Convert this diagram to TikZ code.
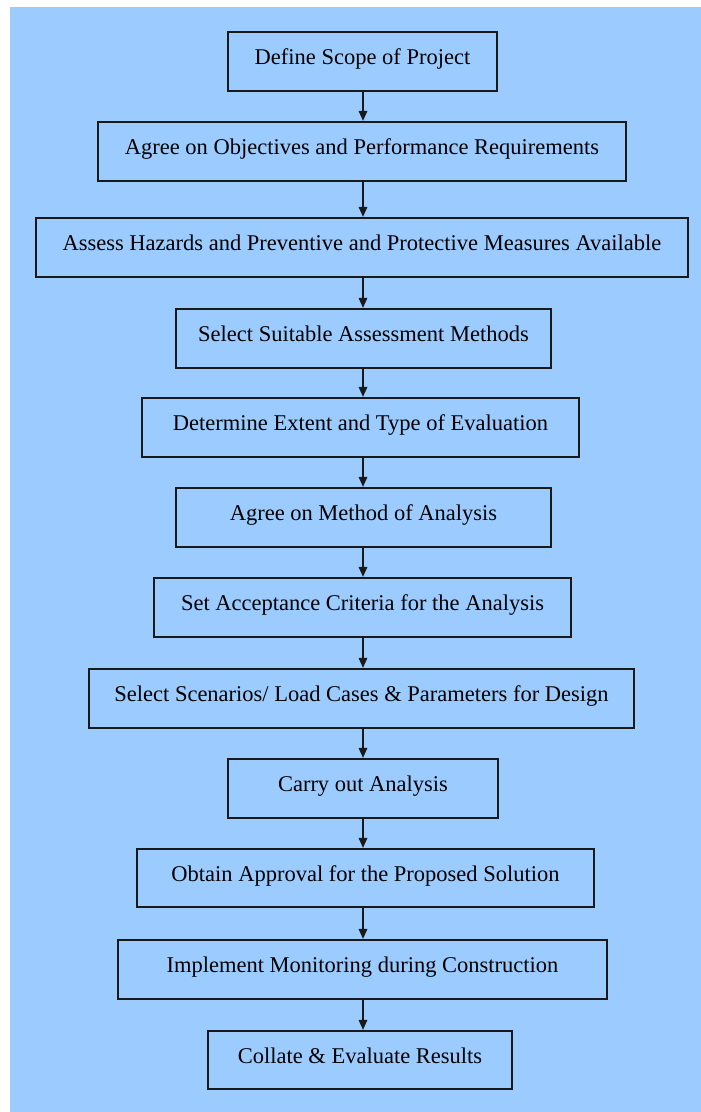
\documentclass[tikz,border=0pt]{standalone}
\usepackage{fontspec}
\setmainfont{Liberation Serif}
\usetikzlibrary{arrows.meta}
\definecolor{skyfill}{RGB}{156,204,255}
\tikzset{
  stepbox/.style={draw=black!90, line width=1.6pt, fill=skyfill, inner sep=0pt,
    text height=16pt, text depth=10pt,
    font=\fontsize{22.5}{27}\selectfont},
  flow/.style={draw=black!90, line width=1.6pt,
    -{Triangle[length=10pt,width=8.5pt]}, shorten >=0.3pt}
}
% place a box from its left/right/top/bottom edges (y counted downward)
\newcommand{\flowbox}[6]{%
  \node[stepbox, minimum width=#3pt-#2pt, minimum height=#5pt-#4pt]
    (#1) at ({(#2+#3)/2},{(#4+#5)/2}) {#6};}
\begin{document}
\begin{tikzpicture}[x=1pt,y=-1pt]
  \useasboundingbox (0,0) rectangle (701,1112);
  \fill[white] (0,0) rectangle (701,1112);
  \fill[skyfill] (10,7) rectangle (701,1112);

  % common vertical axis of the flow arrows
  \coordinate (axis) at (363,0);

  \flowbox{s1}{228}{497}{32}{91}{Define Scope of Project}
  \flowbox{s2}{98}{626}{122}{181}{Agree on Objectives and Performance Requirements}
  \flowbox{s3}{36}{688}{218}{277}{Assess Hazards and Preventive and Protective Measures Available}
  \flowbox{s4}{176}{551}{309}{368}{Select Suitable Assessment Methods}
  \flowbox{s5}{142}{579}{398}{457}{Determine Extent and Type of Evaluation}
  \flowbox{s6}{176}{551}{488}{547}{Agree on Method of Analysis}
  \flowbox{s7}{154}{571}{578}{637}{Set Acceptance Criteria for the Analysis}
  \flowbox{s8}{89}{634}{669}{728}{Select Scenarios/ Load Cases \& Parameters for Design}
  \flowbox{s9}{228}{498}{759}{818}{Carry out Analysis}
  \flowbox{s10}{137}{594}{849}{907}{Obtain Approval for the Proposed Solution}
  \flowbox{s11}{118}{607}{940}{999}{Implement Monitoring during Construction}
  \flowbox{s12}{208}{512}{1031}{1089}{Collate \& Evaluate Results}

  \foreach \a/\b in {s1/s2,s2/s3,s3/s4,s4/s5,s5/s6,s6/s7,s7/s8,s8/s9,s9/s10,s10/s11,s11/s12}
    \draw[flow] (\a.south -| axis) -- (\b.north -| axis);
\end{tikzpicture}
\end{document}
